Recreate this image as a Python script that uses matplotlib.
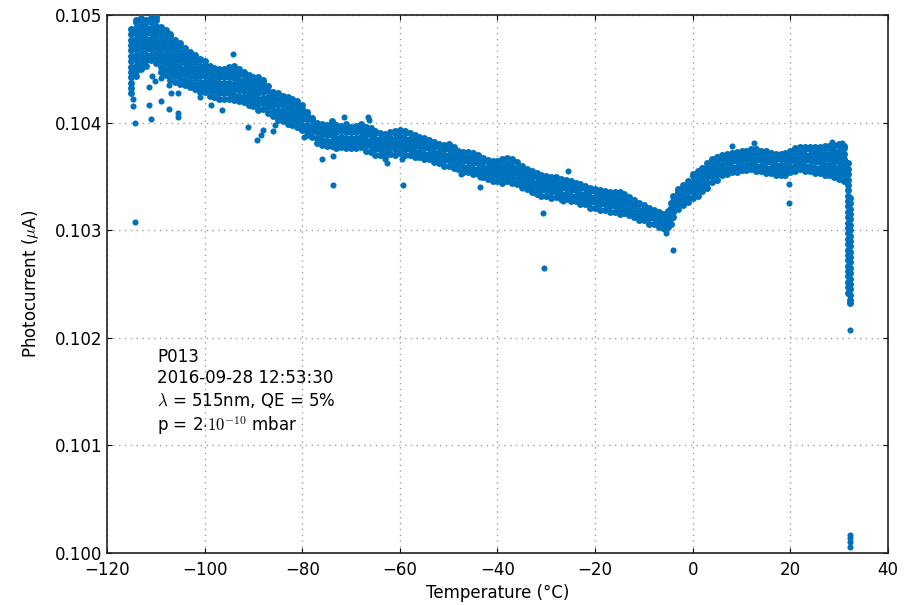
import numpy as np
import matplotlib
matplotlib.use('Agg')
import matplotlib.pyplot as plt
from matplotlib.ticker import FormatStrFormatter

plt.rcParams['xtick.direction'] = 'in'
plt.rcParams['ytick.direction'] = 'in'
plt.rcParams['xtick.top'] = True
plt.rcParams['ytick.right'] = True
plt.rcParams['xtick.major.pad'] = 5.5
plt.rcParams['font.family'] = 'DejaVu Sans'
plt.rcParams['mathtext.fontset'] = 'cm'
plt.rcParams['font.size'] = 12

# photocurrent in nA, columns of samples per temperature (deg C)
band_cold = [
    (-115, [104.27, 104.32, 104.37, 104.42, 104.47, 104.52, 104.57, 104.62, 104.67, 104.72, 104.77, 104.82, 104.87]),
    (-114, [104.43, 104.48, 104.53, 104.58, 104.63, 104.68, 104.73, 104.78, 104.83, 104.88, 104.93, 104.95]),
    (-113, [104.50, 104.55, 104.60, 104.65, 104.70, 104.75, 104.80, 104.85, 104.90, 104.95, 104.97]),
    (-112, [104.53, 104.58, 104.63, 104.68, 104.73, 104.78, 104.83, 104.88, 104.93, 104.95]),
    (-111, [104.58, 104.63, 104.68, 104.73, 104.78, 104.83, 104.88, 104.93, 104.97]),
    (-110, [104.55, 104.60, 104.65, 104.70, 104.75, 104.80, 104.85, 104.90, 104.95, 104.98]),
    (-109, [104.47, 104.52, 104.57, 104.62, 104.67, 104.72, 104.77, 104.82, 104.87, 104.89]),
    (-108, [104.44, 104.49, 104.54, 104.59, 104.64, 104.69, 104.74, 104.79, 104.84, 104.86]),
    (-107, [104.40, 104.45, 104.50, 104.55, 104.60, 104.65, 104.70, 104.75, 104.80, 104.82]),
    (-106, [104.38, 104.43, 104.48, 104.53, 104.58, 104.63, 104.68, 104.73, 104.77]),
    (-105, [104.36, 104.41, 104.46, 104.51, 104.56, 104.61, 104.66, 104.71, 104.74]),
    (-104, [104.35, 104.40, 104.45, 104.50, 104.55, 104.60, 104.65, 104.69]),
    (-103, [104.33, 104.38, 104.43, 104.48, 104.53, 104.58, 104.63, 104.66]),
    (-102, [104.31, 104.36, 104.41, 104.46, 104.51, 104.56, 104.61, 104.63]),
    (-101, [104.28, 104.33, 104.38, 104.43, 104.48, 104.53, 104.58, 104.59]),
    (-100, [104.28, 104.33, 104.38, 104.43, 104.48, 104.53, 104.57]),
    (-99, [104.25, 104.30, 104.35, 104.40, 104.45, 104.50, 104.53]),
    (-98, [104.24, 104.29, 104.34, 104.39, 104.44, 104.49, 104.51]),
    (-97, [104.22, 104.27, 104.32, 104.37, 104.42, 104.47, 104.50]),
    (-96, [104.22, 104.27, 104.32, 104.37, 104.42, 104.47, 104.50]),
    (-95, [104.22, 104.27, 104.32, 104.37, 104.42, 104.47, 104.52]),
    (-94, [104.21, 104.26, 104.31, 104.36, 104.41, 104.46, 104.51, 104.53]),
    (-93, [104.20, 104.25, 104.30, 104.35, 104.40, 104.45, 104.50]),
    (-92, [104.19, 104.24, 104.29, 104.34, 104.39, 104.44, 104.47]),
    (-91, [104.16, 104.21, 104.26, 104.31, 104.36, 104.41, 104.44]),
    (-90, [104.15, 104.20, 104.25, 104.30, 104.35, 104.40, 104.42]),
    (-89, [104.12, 104.17, 104.22, 104.27, 104.32, 104.37, 104.42]),
    (-88, [104.13, 104.18, 104.23, 104.28, 104.33, 104.38, 104.40]),
]

band_mid = [
    (-87, [104.09, 104.14, 104.19, 104.24, 104.29, 104.34]),
    (-86, [104.06, 104.11, 104.16, 104.21, 104.26, 104.28]),
    (-85, [104.02, 104.07, 104.12, 104.17, 104.22, 104.27]),
    (-84, [104.01, 104.06, 104.11, 104.16, 104.21, 104.25]),
    (-83, [103.99, 104.04, 104.09, 104.14, 104.19, 104.24]),
    (-82, [103.98, 104.03, 104.08, 104.13, 104.18, 104.22]),
    (-81, [103.96, 104.01, 104.06, 104.11, 104.16, 104.20]),
    (-80, [103.93, 103.98, 104.03, 104.08, 104.13, 104.16]),
    (-79, [103.88, 103.93, 103.98, 104.03, 104.08, 104.10]),
    (-78, [103.87, 103.92, 103.97, 104.02, 104.04]),
    (-77, [103.81, 103.86, 103.91, 103.96, 104.00]),
    (-76, [103.79, 103.84, 103.89, 103.94, 103.99]),
    (-75, [103.78, 103.83, 103.88, 103.93, 103.98]),
    (-74, [103.78, 103.83, 103.88, 103.93, 103.98, 104.01]),
    (-73, [103.76, 103.81, 103.86, 103.91, 103.96, 103.98]),
    (-72, [103.77, 103.82, 103.87, 103.92, 103.97]),
    (-71, [103.76, 103.81, 103.86, 103.91, 103.96, 103.99]),
    (-70, [103.76, 103.81, 103.86, 103.91, 103.96]),
    (-69, [103.76, 103.81, 103.86, 103.91, 103.96, 103.97]),
    (-68, [103.77, 103.82, 103.87, 103.92, 103.97, 103.99]),
    (-67, [103.74, 103.79, 103.84, 103.89, 103.94, 103.96]),
    (-66, [103.73, 103.78, 103.83, 103.88, 103.93, 103.95]),
    (-65, [103.70, 103.75, 103.80, 103.85, 103.90, 103.92]),
    (-64, [103.70, 103.75, 103.80, 103.85, 103.90]),
    (-63, [103.68, 103.73, 103.78, 103.83, 103.88, 103.89]),
    (-62, [103.71, 103.76, 103.81, 103.86, 103.91]),
    (-61, [103.70, 103.75, 103.80, 103.85, 103.90, 103.92]),
    (-60, [103.72, 103.77, 103.82, 103.87, 103.92, 103.93]),
    (-59, [103.70, 103.75, 103.80, 103.85, 103.90, 103.92]),
    (-58, [103.70, 103.75, 103.80, 103.85, 103.90]),
    (-57, [103.68, 103.73, 103.78, 103.83, 103.88]),
    (-56, [103.68, 103.73, 103.78, 103.83, 103.87]),
    (-55, [103.66, 103.71, 103.76, 103.81, 103.86]),
    (-54, [103.66, 103.71, 103.76, 103.81, 103.84]),
    (-53, [103.63, 103.68, 103.73, 103.78, 103.82]),
    (-52, [103.62, 103.67, 103.72, 103.77, 103.80]),
    (-51, [103.60, 103.65, 103.70, 103.75, 103.79]),
    (-50, [103.60, 103.65, 103.70, 103.75, 103.80]),
    (-49, [103.58, 103.63, 103.68, 103.73, 103.77]),
    (-48, [103.57, 103.62, 103.67, 103.72, 103.74]),
    (-47, [103.54, 103.59, 103.64, 103.69, 103.73]),
    (-46, [103.54, 103.59, 103.64, 103.69, 103.73]),
    (-45, [103.52, 103.57, 103.62, 103.67, 103.72]),
    (-44, [103.52, 103.57, 103.62, 103.67, 103.70]),
    (-43, [103.49, 103.54, 103.59, 103.64, 103.67]),
    (-42, [103.48, 103.53, 103.58, 103.63, 103.65]),
    (-41, [103.46, 103.51, 103.56, 103.61, 103.64]),
    (-40, [103.46, 103.51, 103.56, 103.61, 103.64]),
    (-39, [103.44, 103.49, 103.54, 103.59, 103.64, 103.66]),
    (-38, [103.46, 103.51, 103.56, 103.61, 103.66, 103.67]),
    (-37, [103.44, 103.49, 103.54, 103.59, 103.64, 103.66]),
    (-36, [103.43, 103.48, 103.53, 103.58, 103.63]),
    (-35, [103.40, 103.45, 103.50, 103.55, 103.60]),
    (-34, [103.38, 103.43, 103.48, 103.53, 103.57]),
    (-33, [103.35, 103.40, 103.45, 103.50, 103.55]),
    (-32, [103.34, 103.39, 103.44, 103.49, 103.53]),
    (-31, [103.32, 103.37, 103.42, 103.47, 103.51]),
    (-30, [103.32, 103.37, 103.42, 103.47, 103.50]),
    (-29, [103.30, 103.35, 103.40, 103.45, 103.49]),
    (-28, [103.31, 103.36, 103.41, 103.46, 103.49]),
    (-27, [103.29, 103.34, 103.39, 103.44, 103.48]),
    (-26, [103.29, 103.34, 103.39, 103.44, 103.47]),
    (-25, [103.27, 103.32, 103.37, 103.42, 103.46]),
    (-24, [103.27, 103.32, 103.37, 103.42, 103.44]),
    (-23, [103.24, 103.29, 103.34, 103.39, 103.43]),
    (-22, [103.24, 103.29, 103.34, 103.39, 103.41]),
    (-21, [103.21, 103.26, 103.31, 103.36, 103.39]),
    (-20, [103.21, 103.26, 103.31, 103.36, 103.38]),
    (-19, [103.19, 103.24, 103.29, 103.34, 103.37]),
    (-18, [103.19, 103.24, 103.29, 103.34, 103.36]),
    (-17, [103.17, 103.22, 103.27, 103.32, 103.35]),
    (-16, [103.17, 103.22, 103.27, 103.32, 103.35]),
    (-15, [103.15, 103.20, 103.25, 103.30, 103.35]),
    (-14, [103.16, 103.21, 103.26, 103.31, 103.34]),
    (-13, [103.14, 103.19, 103.24, 103.29, 103.31]),
    (-12, [103.12, 103.17, 103.22, 103.27, 103.28]),
    (-11, [103.09, 103.14, 103.19, 103.24, 103.25]),
    (-10, [103.09, 103.14, 103.19, 103.23]),
    (-9, [103.06, 103.11, 103.16, 103.21]),
    (-8, [103.06, 103.11, 103.16, 103.19]),
    (-7, [103.03, 103.08, 103.13, 103.17]),
    (-6, [103.02, 103.07, 103.12, 103.15]),
    (-5.5, [103.01, 103.06, 103.11, 103.15]),
    (-5, [103.03, 103.08, 103.13, 103.18]),
    (-4.5, [103.06, 103.11, 103.16, 103.21, 103.25]),
    (-4, [103.12, 103.17, 103.22, 103.27, 103.32]),
    (-3, [103.20, 103.25, 103.30, 103.35, 103.38]),
    (-2, [103.23, 103.28, 103.33, 103.38, 103.42]),
    (-1, [103.26, 103.31, 103.36, 103.41, 103.46]),
]

band_warm = [
    (0, [103.30, 103.35, 103.40, 103.45, 103.50, 103.52]),
    (1, [103.32, 103.37, 103.42, 103.47, 103.52, 103.55]),
    (2, [103.36, 103.41, 103.46, 103.51, 103.56, 103.58]),
    (3, [103.39, 103.44, 103.49, 103.54, 103.59, 103.62]),
    (4, [103.45, 103.50, 103.55, 103.60, 103.65, 103.66]),
    (5, [103.47, 103.52, 103.57, 103.62, 103.67, 103.68]),
    (6, [103.51, 103.56, 103.61, 103.66, 103.70]),
    (7, [103.52, 103.57, 103.62, 103.67, 103.71]),
    (8, [103.54, 103.59, 103.64, 103.69, 103.72]),
    (9, [103.54, 103.59, 103.64, 103.69, 103.73]),
    (10, [103.56, 103.61, 103.66, 103.71, 103.74]),
    (11, [103.56, 103.61, 103.66, 103.71, 103.74]),
    (12, [103.57, 103.62, 103.67, 103.72, 103.75]),
    (13, [103.55, 103.60, 103.65, 103.70, 103.75]),
    (14, [103.55, 103.60, 103.65, 103.70, 103.74]),
    (15, [103.53, 103.58, 103.63, 103.68, 103.73, 103.74]),
    (16, [103.53, 103.58, 103.63, 103.68, 103.72]),
    (17, [103.51, 103.56, 103.61, 103.66, 103.71]),
    (18, [103.51, 103.56, 103.61, 103.66, 103.71]),
    (19, [103.51, 103.56, 103.61, 103.66, 103.71, 103.72]),
    (20, [103.54, 103.59, 103.64, 103.69, 103.74]),
    (21, [103.55, 103.60, 103.65, 103.70, 103.75, 103.76]),
    (22, [103.57, 103.62, 103.67, 103.72, 103.77]),
    (23, [103.55, 103.60, 103.65, 103.70, 103.75, 103.77]),
    (24, [103.55, 103.60, 103.65, 103.70, 103.75, 103.77]),
    (25, [103.53, 103.58, 103.63, 103.68, 103.73, 103.77]),
    (26, [103.53, 103.58, 103.63, 103.68, 103.73, 103.77]),
    (27, [103.51, 103.56, 103.61, 103.66, 103.71, 103.76, 103.78]),
    (28, [103.51, 103.56, 103.61, 103.66, 103.71, 103.76, 103.78]),
    (29, [103.49, 103.54, 103.59, 103.64, 103.69, 103.74, 103.79]),
    (30, [103.48, 103.53, 103.58, 103.63, 103.68, 103.73, 103.78, 103.80]),
    (31, [103.46, 103.51, 103.56, 103.61, 103.66, 103.71, 103.76, 103.78]),
]

# fast drop at the end of the warm-up
drop = [
    (31.9, [103.62, 103.57, 103.52, 103.47, 103.42, 103.37, 103.32, 103.27, 103.22, 103.17,
            103.12, 103.07, 103.02, 102.97, 102.92, 102.87, 102.82, 102.77, 102.72, 102.67,
            102.62, 102.57, 102.52, 102.47, 102.42]),
    (32.2, [103.30, 103.25, 103.20, 103.15, 103.10, 103.05, 103.00, 102.95, 102.90, 102.85,
            102.80, 102.75, 102.70, 102.65, 102.60, 102.55, 102.50, 102.45, 102.40, 102.35,
            102.32]),
]

outlier_temp = [-114.3, -114.3, -114.6, -114.6, -111.0, -111.3, -111.3, -110.8, -110.2, -109.0,
                -108.9, -107.3, -106.9, -105.5, -107.3, -105.5, -105.5, -101.0, -98.7, -96.4,
                -94.2, -91.1, -89.3, -88.5, -88.0, -86.0, -85.5, -80.5, -79.6, -76.0,
                -73.7, -73.7, -71.5, -66.5, -66.3, -63.0, -62.6, -59.5, -59.4, -47.5,
                -43.6, -43.6, -35.0, -30.7, -30.5, -25.6, -26.5, -21.6, -5.5, -4.0,
                8.0, 12.6, 19.7, 19.7, 28.5, 30.5,
                32.3, 32.2, 32.2, 32.2, 32.2]
outlier_na = [103.08, 104.00, 104.22, 104.15, 104.03, 104.16, 104.33, 104.43, 104.39, 104.41,
              104.20, 104.35, 104.27, 104.27, 104.13, 104.09, 104.05, 104.24, 104.16, 104.12,
              104.64, 103.96, 103.84, 103.88, 103.93, 103.92, 103.98, 103.95, 103.87, 103.66,
              103.69, 103.42, 104.05, 104.05, 104.02, 103.66, 103.62, 103.66, 103.42, 103.52,
              103.49, 103.40, 103.39, 103.16, 102.65, 103.55, 103.27, 103.26, 102.97, 102.82,
              103.78, 103.81, 103.43, 103.25, 103.82, 103.81,
              102.07, 100.17, 100.14, 100.10, 100.06]

band_temp = []
band_current = []
for t, vals in band_cold + band_mid + band_warm + drop:
    band_temp += [t] * len(vals)
    band_current += vals
band_temp = np.array(band_temp)
band_current = np.array(band_current) / 1000.0  # nA -> uA

fig = plt.figure(figsize=(9.1, 6.05), dpi=100, facecolor='white')
ax = fig.add_axes([0.1176, 0.086, 0.8582, 0.8893])
blue = '#0072bd'
ax.plot(band_temp, band_current, 'o', color=blue, ms=5.0, mew=0, zorder=3)
ax.plot(outlier_temp, np.array(outlier_na) / 1000.0, 'o', color=blue, ms=4.4, mew=0, zorder=3)

ax.set_xlim(-120, 40)
ax.set_ylim(0.100, 0.105)
ax.set_xticks(np.arange(-120, 41, 20))
ax.set_yticks(np.arange(0.100, 0.1051, 0.001))
ax.yaxis.set_major_formatter(FormatStrFormatter('%.3f'))
ax.grid(True, color='#a0a0a0', linestyle=(0, (1, 3.2)), linewidth=1.0)
ax.set_axisbelow(True)
for s in ax.spines.values():
    s.set_color('#222222')
    s.set_linewidth(1.2)

ax.set_xlabel('Temperature (°C)')
ax.set_ylabel(r'Photocurrent ($\mu$A)', labelpad=10)

info = ('P013\n2016-09-28 12:53:30\n'
        r'$\lambda$ = 515nm, QE = 5%' '\n'
        r'p = 2$\cdot10^{-10}$ mbar')
ax.text(0.064, 0.381, info, transform=ax.transAxes, va='top', ha='left', linespacing=1.25)

fig.savefig('out.png', dpi=100, facecolor='white')
